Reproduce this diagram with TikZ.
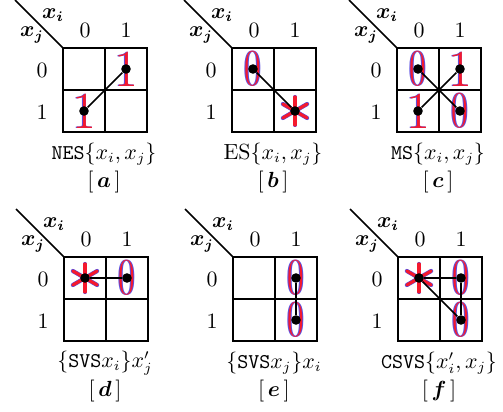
\documentclass[tikz,border=0pt]{standalone}
\usepackage{amsmath,bm}
\definecolor{gred}{RGB}{245,25,45}
\definecolor{gblue}{RGB}{90,80,225}
\tikzset{
  gridline/.style={line width=1.2pt},
  cornerline/.style={line width=0.85pt},
  lbl/.style={font=\fontsize{10.5}{12}\selectfont, inner sep=0pt},
  hdr/.style={font=\fontsize{10.5}{12}\selectfont, inner sep=0pt},
  kdot/.style={circle, fill=black, inner sep=0pt, minimum size=4.8pt},
  link/.style={line width=0.8pt},
  bigglyph/.style={font=\fontsize{26}{26}\selectfont, inner sep=0pt},
  starblue/.style={gblue, line width=2.1pt, line cap=round},
  starred/.style={gred, line width=1.55pt, line cap=round},
}
% #1 prefix, #2 x, #3 y, #4 function label, #5 letter
\newcommand\kframe[5]{%
  \begin{scope}[shift={(#2,#3)}]
    \draw[gridline] (0,0) rectangle (84,84) (42,0) -- (42,84) (0,42) -- (84,42);
    \coordinate (#1corner) at (0,0);
    \coordinate (#1tip) at (-48,-48);
    \draw[cornerline] (#1corner) -- (#1tip);
    \node[hdr] (#1xi) at (-10,-33) {$\bm{x_i}$};
    \node[hdr] (#1xj) at (-31,-13) {$\bm{x_j}$};
    \node[hdr] (#1c0) at (22,-17.5) {$0$};
    \node[hdr] (#1c1) at (63,-17.5) {$1$};
    \node[hdr] (#1r0) at (-21,22) {$0$};
    \node[hdr] (#1r1) at (-21,64) {$1$};
    \node[lbl] (#1fn) at (41,106) {#4};
    \node[lbl] (#1tag) at (41,134) {$[\,\bm{#5}\,]$};
    \coordinate (#1tl) at (21,21);
    \coordinate (#1tr) at (63,21);
    \coordinate (#1bl) at (21,63);
    \coordinate (#1br) at (63,63);
  \end{scope}}
% glyph: #1 name, #2 position, #3 text
\newcommand\kglyph[3]{%
  \node[bigglyph, text=gblue, xshift=-0.35pt] at (#2) {#3};
  \node[bigglyph, text=gblue, xshift=0.35pt] at (#2) {#3};
  \node[bigglyph, text=gred] (#1) at (#2) {#3};}
\newcommand\kzero{\scalebox{0.7}[1]{0}}
\newcommand\kone{1}
% star: #1 position
\newcommand\kstar[1]{%
  \foreach \a in {90,30,150}{
    \draw[starblue] ([shift={(\a:14)}]#1) -- ([shift={(\a+180:14)}]#1);
  }
  \foreach \a in {90,30,150}{
    \draw[starred] ([shift={(\a:14)}]#1) -- ([shift={(\a+180:14)}]#1);
  }}
\begin{document}
\begin{tikzpicture}[x=0.5pt,y=-0.5pt]
\useasboundingbox (0,0) rectangle (503,412);
% (a)
\kframe{a}{63}{48}{$\texttt{NES}\{x_i,x_j\}$}{a}
\kglyph{ag1}{atr}{\kone}
\kglyph{ag2}{abl}{\kone}
\node[kdot] (ad1) at (atr) {};
\node[kdot] (ad2) at (abl) {};
\draw[link] (ad1) -- (ad2);
% (b)
\kframe{b}{232}{48}{$\mathrm{ES}\{x_i,x_j\}$}{b}
\kglyph{bg1}{btl}{\kzero}
\kstar{bbr}
\node[kdot] (bd1) at (btl) {};
\node[kdot] (bd2) at (bbr) {};
\draw[link] (bd1) -- (bd2);
% (c)
\kframe{c}{397}{48}{$\texttt{MS}\{x_i,x_j\}$}{c}
\kglyph{cg1}{ctl}{\kzero}
\kglyph{cg2}{ctr}{\kone}
\kglyph{cg3}{cbl}{\kone}
\kglyph{cg4}{cbr}{\kzero}
\node[kdot] (cd1) at (ctl) {};
\node[kdot] (cd2) at (ctr) {};
\node[kdot] (cd3) at (cbl) {};
\node[kdot] (cd4) at (cbr) {};
\draw[link] (cd1) -- (cd4);
\draw[link] (cd2) -- (cd3);
% (d)
\kframe{d}{64}{257}{$\{\texttt{SVS}x_i\}x_j'$}{d}
\kstar{dtl}
\kglyph{dg1}{dtr}{\kzero}
\node[kdot] (dd1) at (dtl) {};
\node[kdot] (dd2) at (dtr) {};
\draw[link] (dd1) -- (dd2);
% (e)
\kframe{e}{233}{257}{$\{\texttt{SVS}x_j\}x_i$}{e}
\kglyph{eg1}{etr}{\kzero}
\kglyph{eg2}{ebr}{\kzero}
\node[kdot] (ed1) at (etr) {};
\node[kdot] (ed2) at (ebr) {};
\draw[link] (ed1) -- (ed2);
% (f)
\kframe{f}{398}{257}{$\texttt{CSVS}\{x_i',x_j\}$}{f}
\kstar{ftl}
\kglyph{fg1}{ftr}{\kzero}
\kglyph{fg2}{fbr}{\kzero}
\node[kdot] (fd1) at (ftl) {};
\node[kdot] (fd2) at (ftr) {};
\node[kdot] (fd3) at (fbr) {};
\draw[link] (fd1) -- (fd2);
\draw[link] (fd1) -- (fd3);
\draw[link] (fd2) -- (fd3);
\end{tikzpicture}
\end{document}
